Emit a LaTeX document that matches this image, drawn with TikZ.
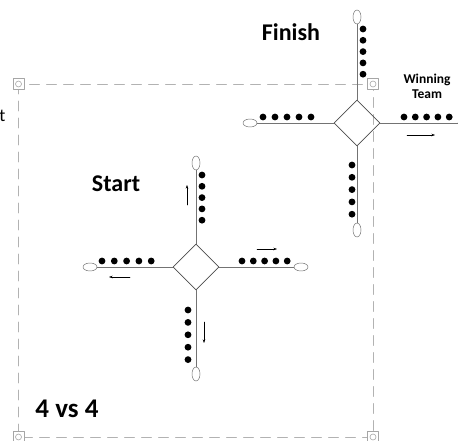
\documentclass[tikz,border=0pt]{standalone}
\usepackage{fontspec}
\setmainfont{Carlito}
\usetikzlibrary{shapes.geometric,arrows.meta}

\tikzset{
  gate/.style = {diamond, draw = black!70, line width = 0.8pt, inner sep = 0pt, minimum size = 46pt},
  endh/.style = {ellipse, draw = black!55, line width = 0.5pt, fill = white, inner sep = 0pt, minimum width = 14pt, minimum height = 8pt},
  endv/.style = {ellipse, draw = black!55, line width = 0.5pt, fill = white, inner sep = 0pt, minimum width = 8pt, minimum height = 14pt},
  arm/.style  = {draw = black!55, line width = 0.8pt},
  mv/.style   = {-{Stealth[length = 3.5pt, width = 2.5pt]}, line width = 0.5pt},
  lbl/.style  = {font = \bfseries\fontsize{24}{28}\selectfont, inner sep = 0pt}
}

\begin{document}
\begin{tikzpicture}[x = 1pt, y = -1pt, line join = round, line cap = round]
\useasboundingbox (0,0) rectangle (458,441);

% field
\draw[gray!60, line width = 0.8pt, dash pattern = on 10pt off 7pt] (18.5,84) rectangle (373,437);

% start cross
\node[gate] (sgate) at (196,267) {};
\node[endh] (sleft)  at (90,267)  {};
\node[endh] (sright) at (301,267) {};
\node[endv] (stop)   at (196,163) {};
\node[endv] (sbot)   at (196,374) {};
\draw[arm] (sgate.west)  -- (sleft);
\draw[arm] (sgate.east)  -- (sright);
\draw[arm] (sgate.north) -- (stop);
\draw[arm] (sgate.south) -- (sbot);

% finish cross
\node[gate] (fgate) at (357,123) {};
\node[endh] (fleft)  at (250,123) {};
\node[endh] (fright) at (465,123) {};
\node[endv] (ftop)   at (357,17)  {};
\node[endv] (fbot)   at (357,230) {};
\draw[arm] (fgate.west)  -- (fleft);
\draw[arm] (fgate.east)  -- (fright);
\draw[arm] (fgate.north) -- (ftop);
\draw[arm] (fgate.south) -- (fbot);

% players
\foreach \i in {0,...,4}{
  \fill (202,175+11.3*\i) circle (3.4pt);
  \fill (188,310+12.4*\i) circle (3.4pt);
  \fill (102+12.3*\i,261) circle (3.4pt);
  \fill (242+11.3*\i,261) circle (3.4pt);
  \fill (363,29+11.3*\i) circle (3.4pt);
  \fill (352,165+12.3*\i) circle (3.4pt);
  \fill (263+12*\i,117) circle (3.4pt);
  \fill (404+11.3*\i,117) circle (3.4pt);
}

% runs
\draw[mv] (187,205) -- (187,185);
\draw[mv] (257,249) -- (277,249);
\draw[mv] (130,277) -- (109,277);
\draw[mv] (204,322) -- (204,343);
\draw[mv] (407,135) -- (435,135);

% handles
\foreach \hx/\hy in {18.5/84, 373/84, 18.5/437, 373/437}{
  \draw[gray!70, fill = white, line width = 0.6pt] (\hx-5.5,\hy-5.5) rectangle (\hx+5.5,\hy+5.5);
  \draw[gray!70, line width = 0.6pt] (\hx,\hy) circle (3pt);
}

% labels
\node[lbl] (start)  at (116,184) {Start};
\node[lbl] (finish) at (291,32)  {Finish};
\node[lbl, font = \bfseries\fontsize{27}{30}\selectfont] (vs) at (67,409) {4 vs 4};
\node[inner sep = 0pt, align = center, font = \bfseries\fontsize{13.5}{15}\selectfont] (win) at (427,86) {Winning\\Team};
\node[inner sep = 0pt, anchor = east, font = \fontsize{18}{20}\selectfont] (cut) at (5.5,116) {t};
\end{tikzpicture}
\end{document}
